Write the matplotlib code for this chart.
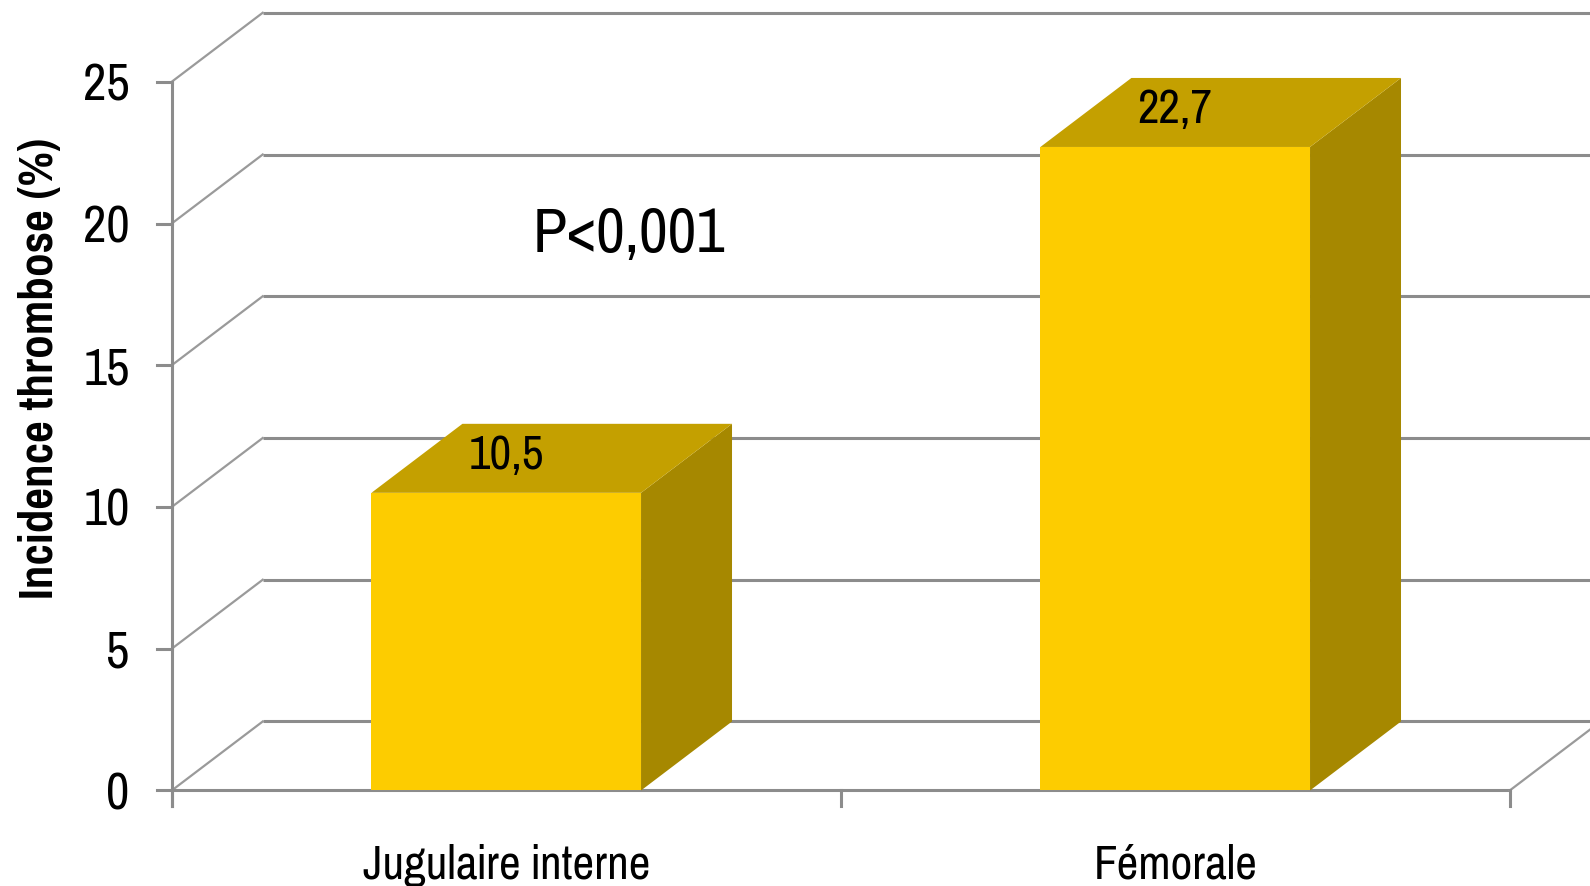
import matplotlib
matplotlib.use("Agg")
import matplotlib.pyplot as plt
from matplotlib.patches import Polygon

plt.rcParams['font.family'] = ['Pragati Narrow', 'Liberation Sans', 'DejaVu Sans']

# data
categories = ['Jugulaire interne', 'Fémorale']
values = [10.5, 22.7]
value_labels = ['10,5', '22,7']
yticks = [0, 5, 10, 15, 20, 25]
pvalue_text = 'P<0,001'

# colours
front_col = '#FDCC00'
top_col = '#C4A000'
side_col = '#A68800'
grid_col = '#8C8C8C'

fig = plt.figure(figsize=(15.9, 8.86), dpi=100)
ax = fig.add_axes([0, 0, 1, 1])
ax.set_xlim(-0.2567, 2.120)
ax.set_ylim(-3.369, 27.884)
ax.axis('off')

# 3d depth offset in data units
ddx = 0.136
ddy = 2.434
ymax = 25

# back wall gridlines + left side wall diagonals
for t in yticks:
    ax.plot([ddx, 2.3], [t + ddy, t + ddy], color=grid_col, lw=2.2, zorder=1,
            solid_capstyle='butt')
    ax.plot([0, ddx], [t, t + ddy], color='#9A9A9A', lw=1.6, zorder=1)

# floor
ax.plot([0, 2], [0, 0], color=grid_col, lw=2.2, zorder=1)
ax.plot([2, 2 + ddx], [0, ddy], color='#9A9A9A', lw=1.6, zorder=1)

# front value axis with ticks
ax.plot([0, 0], [-0.53, ymax], color=grid_col, lw=2.2, zorder=4)
for t in yticks:
    ax.plot([-0.0224, 0], [t, t], color=grid_col, lw=2.2, zorder=4)
    ax.text(-0.063, t, str(t), ha='right', va='center_baseline', fontsize=40, color='black')

# category ticks
for xt in [0, 1, 2]:
    ax.plot([xt, xt], [0, -0.53], color=grid_col, lw=2.2, zorder=4)

# bars
width = 0.403
for i, v in enumerate(values):
    xc = i + 0.5
    x0, x1 = xc - width / 2, xc + width / 2
    side = Polygon([[x1, 0], [x1 + ddx, ddy], [x1 + ddx, v + ddy], [x1, v]],
                   closed=True, facecolor=side_col, edgecolor='none', zorder=2)
    top = Polygon([[x0, v], [x1, v], [x1 + ddx, v + ddy], [x0 + ddx, v + ddy]],
                  closed=True, facecolor=top_col, edgecolor='none', zorder=2)
    front = Polygon([[x0, 0], [x1, 0], [x1, v], [x0, v]],
                    closed=True, facecolor=front_col, edgecolor='none', zorder=3)
    ax.add_patch(side)
    ax.add_patch(top)
    ax.add_patch(front)
    ax.text(xc, v + ddy * 0.6, value_labels[i], ha='center', va='center_baseline',
            fontsize=37, color='black', zorder=5)
    ax.text(xc, -2.5, categories[i], ha='center', va='center_baseline', fontsize=37,
            color='black')

ax.text(0.683, 19.8, pvalue_text, ha='center', va='center_baseline', fontsize=49, color='black')

ax.text(-0.198, 14.9, 'Incidence thrombose (%)', rotation=90, ha='center', va='center',
        fontsize=37, fontweight='bold', color='black')

fig.savefig('out.png', dpi=100)
